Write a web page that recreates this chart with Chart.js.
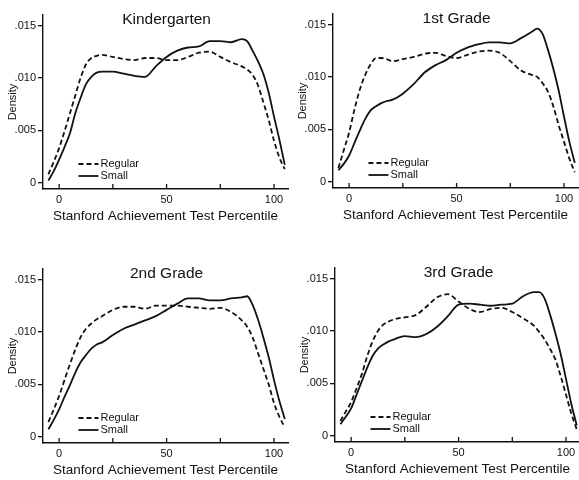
<!DOCTYPE html>
<html>
<head>
<meta charset="utf-8">
<title>Stanford Achievement Test Percentile densities</title>
<script src="https://cdn.jsdelivr.net/npm/chart.js@4/dist/chart.umd.min.js"></script>
<style>
  body { margin: 0; background: #fff; width: 579px; height: 480px; position: relative; overflow: hidden; }
  canvas { position: absolute; }
</style>
</head>
<body>
<canvas id="kinder" width="289" height="240" style="left:0px;top:0px"></canvas>
<canvas id="grade1" width="289" height="240" style="left:290px;top:-1px"></canvas>
<canvas id="grade2" width="289" height="240" style="left:0px;top:254px"></canvas>
<canvas id="grade3" width="289" height="240" style="left:292px;top:253px"></canvas>
<script>
// percentile points where each density curve is sampled
const percentiles = [-5, -2.5, 0, 2.5, 5, 7.5, 10, 12.5, 15, 17.5, 20, 25, 30, 35, 40, 45, 50,
                     55, 60, 65, 70, 75, 80, 85, 87.5, 90, 92.5, 95, 97.5, 100, 102.5, 105];

const kRegular = [.0008, .0020, .0033, .0049, .0066, .0083, .0100, .0113, .0119, .0121, .0122, .0120, .0118, .0117, .0119, .0119, .0117,
                  .0117, .0120, .0124, .0125, .0120, .0115, .0111, .0108, .0103, .0093, .0077, .0060, .0040, .0024, .0013];
const kSmall   = [.0002, .0011, .0022, .0034, .0047, .0066, .0081, .0094, .0101, .0105, .0106, .0106, .0104, .0102, .0101, .0111, .0120,
                  .0126, .0129, .0130, .0135, .0135, .0134, .0137, .0135, .0126, .0116, .0104, .0086, .0063, .0041, .0017];

const g1Regular = [.0013, .0030, .0047, .0069, .0088, .0102, .0112, .0118, .0118, .0117, .0115, .0117, .0119, .0122, .0123, .0120, .0118,
                   .0121, .0124, .0125, .0123, .0115, .0106, .0102, .0100, .0094, .0086, .0072, .0054, .0038, .0022, .0009];
const g1Small   = [.0011, .0017, .0025, .0037, .0049, .0060, .0068, .0072, .0075, .0077, .0078, .0084, .0093, .0104, .0111, .0116, .0123,
                   .0128, .0131, .0133, .0133, .0132, .0137, .0143, .0146, .0141, .0126, .0108, .0087, .0062, .0038, .0018];

const g2Regular = [.0014, .0026, .0039, .0054, .0069, .0083, .0095, .0103, .0108, .0112, .0115, .0121, .0124, .0124, .0122, .0125, .0125,
                   .0125, .0124, .0123, .0122, .0123, .0119, .0111, .0105, .0095, .0080, .0065, .0050, .0032, .0019, .0009];
const g2Small   = [.0007, .0016, .0026, .0038, .0049, .0061, .0071, .0078, .0084, .0088, .0090, .0097, .0103, .0107, .0111, .0115, .0121,
                   .0127, .0132, .0132, .0130, .0130, .0132, .0133, .0134, .0126, .0112, .0095, .0076, .0054, .0034, .0017];

const g3Regular = [.0014, .0023, .0032, .0045, .0059, .0076, .0090, .0100, .0106, .0109, .0111, .0113, .0115, .0123, .0132, .0135, .0128,
                   .0121, .0118, .0121, .0122, .0118, .0112, .0105, .0099, .0092, .0083, .0073, .0057, .0039, .0021, .0006];
const g3Small   = [.0011, .0018, .0026, .0039, .0052, .0065, .0076, .0083, .0087, .0090, .0092, .0095, .0094, .0097, .0104, .0114, .0125,
                   .0126, .0125, .0124, .0125, .0126, .0133, .0137, .0137, .0131, .0116, .0098, .0078, .0054, .0030, .0010];

const seriesNames = ['Regular', 'Small'];
const yTicks = [0, .005, .010, .015];
const xLabelTicks = [0, 50, 100];
const xTickMarks = [0, 25, 50, 75, 100];

const ink = '#111';
const fontFamily = '"Liberation Sans", Arial, Helvetica, sans-serif';
Chart.defaults.font.family = fontFamily;
Chart.defaults.color = ink;

function toPoints(values) {
  return values.map((v, i) => ({ x: percentiles[i], y: v }));
}

function yLabel(v) {
  if (v === 0) return '0';
  return v.toFixed(3).replace(/^0/, '');
}

// panel title, inward x tick marks and the small legend in the lower left
const panelDecor = {
  id: 'panelDecor',
  afterDraw(chart, args, opts) {
    const ctx = chart.ctx;
    const xs = chart.scales.x;
    const area = chart.chartArea;
    ctx.save();

    ctx.strokeStyle = ink;
    ctx.lineWidth = 1.3;
    xTickMarks.forEach(v => {
      const px = xs.getPixelForValue(v);
      ctx.beginPath();
      ctx.moveTo(px, area.bottom);
      ctx.lineTo(px, area.bottom - 5);
      ctx.stroke();
    });

    ctx.fillStyle = ink;
    ctx.textAlign = 'center';
    ctx.textBaseline = 'middle';
    ctx.font = '15.5px ' + fontFamily;
    ctx.fillText(opts.title, xs.getPixelForValue(50), area.top + 5);

    ctx.font = '11px ' + fontFamily;
    ctx.textAlign = 'left';
    const x0 = xs.getPixelForValue(9);
    chart.data.datasets.forEach((ds, i) => {
      const yy = area.bottom - 25 + i * 12;
      ctx.beginPath();
      ctx.setLineDash(ds.borderDash || []);
      ctx.lineWidth = ds.borderWidth;
      ctx.moveTo(x0, yy);
      ctx.lineTo(x0 + 20, yy);
      ctx.stroke();
      ctx.setLineDash([]);
      ctx.fillText(ds.label, x0 + 22, yy);
    });
    ctx.restore();
  }
};

function drawPanel(canvasId, title, regular, small) {
  return new Chart(document.getElementById(canvasId), {
    type: 'line',
    data: {
      datasets: [{
        label: seriesNames[0],
        data: toPoints(regular),
        borderColor: ink,
        borderWidth: 1.8,
        borderDash: [5, 3],
        pointRadius: 0,
        cubicInterpolationMode: 'monotone',
        fill: false
      }, {
        label: seriesNames[1],
        data: toPoints(small),
        borderColor: ink,
        borderWidth: 1.8,
        pointRadius: 0,
        cubicInterpolationMode: 'monotone',
        fill: false
      }]
    },
    options: {
      responsive: false,
      animation: false,
      events: [],
      layout: { padding: { top: 15, right: 1, left: 0, bottom: 0 } },
      plugins: {
        legend: { display: false },
        tooltip: { enabled: false },
        panelDecor: { title: title }
      },
      scales: {
        x: {
          type: 'linear',
          min: -7.5,
          max: 106.5,
          afterBuildTicks: s => { s.ticks = xLabelTicks.map(v => ({ value: v })); },
          afterFit: s => { s.height = 51; },
          grid: { display: false, drawTicks: false, tickLength: 0 },
          border: { display: true, color: ink, width: 1.4 },
          ticks: { font: { size: 11 }, color: ink, padding: 4, maxRotation: 0, autoSkip: false },
          title: {
            display: true,
            text: 'Stanford Achievement Test Percentile',
            font: { size: 13.5 },
            color: ink,
            padding: { top: 0, bottom: 16 }
          }
        },
        y: {
          min: -0.0006,
          max: 0.016,
          afterBuildTicks: s => { s.ticks = yTicks.map(v => ({ value: v })); },
          afterFit: s => { s.width = 43; },
          grid: { display: true, drawOnChartArea: false, drawTicks: true, tickLength: 5, color: ink, lineWidth: 1.3 },
          border: { display: true, color: ink, width: 1.4 },
          ticks: { font: { size: 11 }, color: ink, padding: 2, callback: v => yLabel(v) },
          title: {
            display: true,
            text: 'Density',
            font: { size: 11 },
            color: ink,
            padding: { top: 6, bottom: 0 }
          }
        }
      }
    },
    plugins: [panelDecor]
  });
}

drawPanel('kinder', 'Kindergarten', kRegular, kSmall);
drawPanel('grade1', '1st Grade', g1Regular, g1Small);
drawPanel('grade2', '2nd Grade', g2Regular, g2Small);
drawPanel('grade3', '3rd Grade', g3Regular, g3Small);
</script>
</body>
</html>
